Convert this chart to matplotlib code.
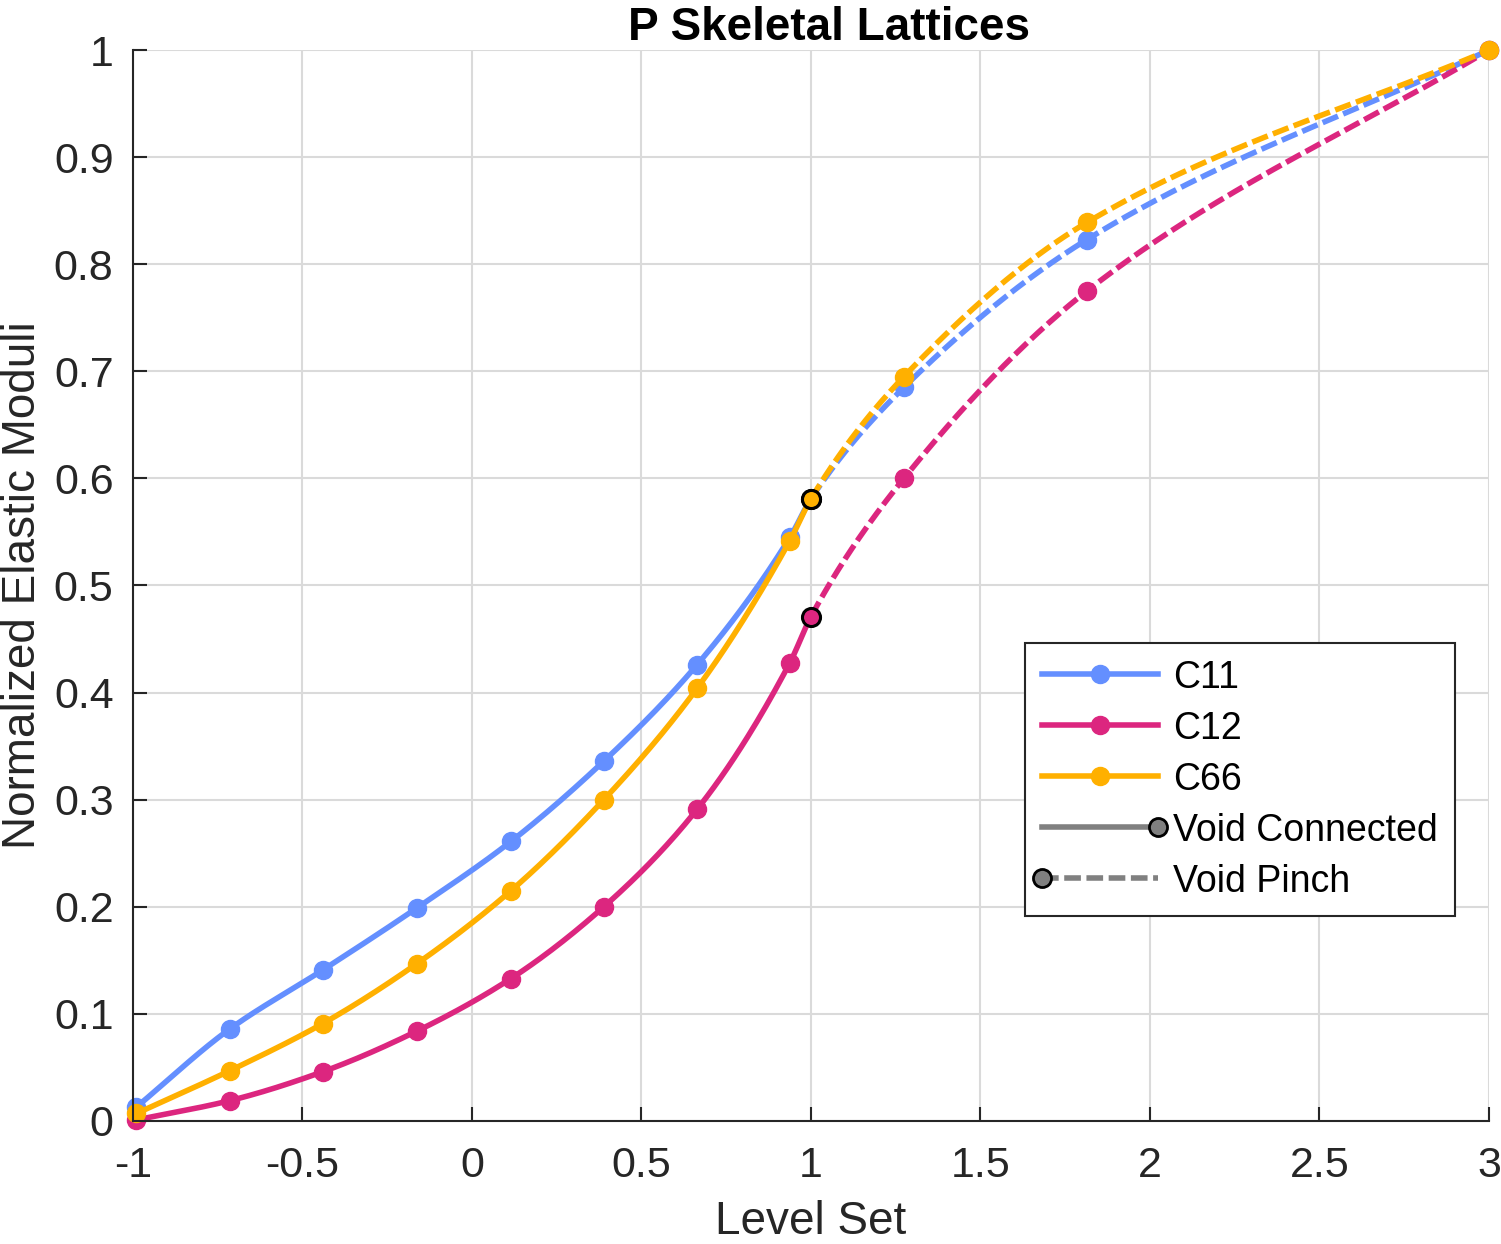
import numpy as np
import matplotlib.pyplot as plt
from matplotlib.legend_handler import HandlerLine2D
from matplotlib.lines import Line2D

plt.rcParams['font.family'] = ['Liberation Sans', 'DejaVu Sans']

# values (level set -> normalized modulus)
level = [-0.99, -0.714, -0.44, -0.162, 0.115, 0.389, 0.664, 0.938, 1.0, 1.274, 1.814, 3.0]
c11 = [0.013, 0.086, 0.141, 0.199, 0.261, 0.336, 0.426, 0.545, 0.581, 0.685, 0.823, 1.0]
c12 = [0.001, 0.019, 0.046, 0.084, 0.133, 0.200, 0.291, 0.428, 0.471, 0.600, 0.775, 1.0]
c66 = [0.007, 0.047, 0.091, 0.147, 0.215, 0.300, 0.404, 0.542, 0.581, 0.695, 0.839, 1.0]
pinch_level = 1.0
names = ['C11', 'C12', 'C66']
colors = ['#648FFF', '#DC267F', '#FFB000']


def pchip(x, y, xs):
    # monotone cubic, used only to draw the smooth curve through the markers
    x = np.asarray(x, float)
    y = np.asarray(y, float)
    h = np.diff(x)
    d = np.diff(y) / h
    m = np.zeros_like(y)
    for k in range(1, len(x) - 1):
        if d[k - 1] * d[k] > 0:
            w1 = 2 * h[k] + h[k - 1]
            w2 = h[k] + 2 * h[k - 1]
            m[k] = (w1 + w2) / (w1 / d[k - 1] + w2 / d[k])
    m[0] = d[0]
    m[-1] = d[-1]
    idx = np.clip(np.searchsorted(x, xs) - 1, 0, len(h) - 1)
    t = (xs - x[idx]) / h[idx]
    hh = h[idx]
    return ((2 * t**3 - 3 * t**2 + 1) * y[idx] + (t**3 - 2 * t**2 + t) * hh * m[idx]
            + (-2 * t**3 + 3 * t**2) * y[idx + 1] + (t**3 - t**2) * hh * m[idx + 1])


fig = plt.figure(figsize=(15.01, 12.44), dpi=100)
ax = fig.add_axes([0.0886, 0.0989, 0.9034, 0.8609])

lw = 4.0
ms = 13
dash = (3, 1.0)
xa = np.linspace(level[0], pinch_level, 300)
xb = np.linspace(pinch_level, level[-1], 300)
lev = np.array(level)
for vals, col in zip([c11, c12, c66], colors):
    ax.plot(xa, pchip(level, vals, xa), color=col, lw=lw, solid_capstyle='round')
    ax.plot(xb, pchip(level, vals, xb), color=col, lw=lw, dashes=dash)
    v = np.array(vals)
    keep = lev != pinch_level
    ax.plot(lev[keep], v[keep], 'o', color=col, ms=ms, mec=col, clip_on=False)

for vals, col in zip([c11, c12, c66], colors):
    i = level.index(pinch_level)
    ax.plot(level[i], vals[i], 'o', mfc=col, mec='black', ms=ms, mew=2.2, zorder=5)

ax.set_xlim(-1, 3)
ax.set_ylim(0, 1)
ax.set_xticks(np.arange(-1, 3.01, 0.5))
ax.set_xticklabels(['-1', '-0.5', '0', '0.5', '1', '1.5', '2', '2.5', '3'])
ax.set_yticks(np.arange(0, 1.01, 0.1))
ax.set_yticklabels(['0', '0.1', '0.2', '0.3', '0.4', '0.5', '0.6', '0.7', '0.8', '0.9', '1'])
ax.tick_params(direction='in', length=10, width=1.5, labelsize=31, colors='#262626')
ax.tick_params(axis='y', pad=14)
ax.tick_params(axis='x', pad=18)
ax.grid(True, color='#dadada', lw=1.5)
ax.set_axisbelow(True)
for s in ['top', 'right']:
    ax.spines[s].set_visible(False)
for s in ['left', 'bottom']:
    ax.spines[s].set_linewidth(1.5)
    ax.spines[s].set_color('#262626')

ax.set_xlabel('Level Set', fontsize=33, color='#262626', labelpad=10)
ax.set_ylabel('Normalized Elastic Moduli', fontsize=33, color='#262626', labelpad=6)
ax.set_title('P Skeletal Lattices', fontsize=33, fontweight='bold', pad=6, x=0.513)


class EndMarker(HandlerLine2D):
    def __init__(self, side):
        super().__init__(numpoints=2, marker_pad=0.0)
        self.side = side

    def create_artists(self, *args, **kwargs):
        arts = super().create_artists(*args, **kwargs)
        for a in arts:
            if a.get_marker() not in (None, 'None', ''):
                a.set_markevery([1] if self.side == 'right' else [0])
        return arts


handles = [Line2D([], [], color=c, lw=lw, marker='o', ms=ms) for c in colors]
conn = Line2D([], [], color='#808080', lw=lw, marker='o', ms=ms, mfc='#808080', mec='black', mew=2)
pin = Line2D([], [], color='#808080', lw=lw, dashes=dash, marker='o', ms=ms,
             mfc='#808080', mec='black', mew=2)
leg = ax.legend(handles + [conn, pin], names + ['Void Connected', 'Void Pinch'],
                loc='lower right', bbox_to_anchor=(0.975, 0.191), fontsize=27,
                handlelength=3.1, handletextpad=0.4, labelspacing=0.4,
                borderpad=0.45, borderaxespad=0, fancybox=False, framealpha=1,
                handler_map={conn: EndMarker('right'), pin: EndMarker('left')})
leg.get_frame().set_edgecolor('#262626')
leg.get_frame().set_linewidth(1.5)

fig.savefig('out.png', dpi=100)
